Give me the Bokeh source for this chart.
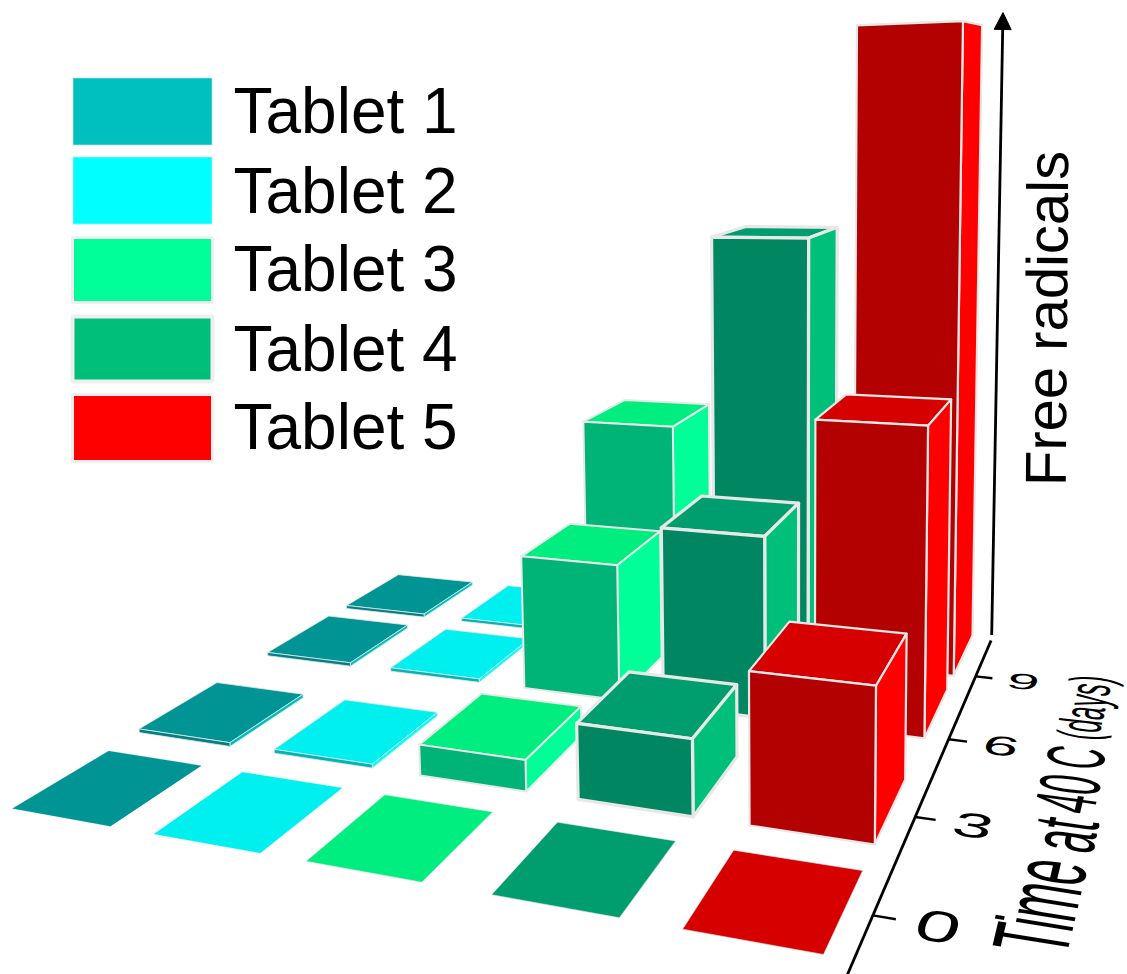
from bokeh.embed import file_html
from bokeh.events import DocumentReady
from bokeh.io import curdoc
from bokeh.models import Arrow, ColumnDataSource, CustomJS, NormalHead, Range1d
from bokeh.plotting import figure
from bokeh.resources import INLINE
from bokeh.core.properties import value
import numpy as np

# Chart content
tablets = ["Tablet 1", "Tablet 2", "Tablet 3", "Tablet 4", "Tablet 5"]
time_days = [0, 3, 6, 9]
tablet_1 = [0.0, 0.035, 0.035, 0.035]
tablet_2 = [0.0, 0.035, 0.035, 0.035]
tablet_3 = [0.0, 0.27, 1.30, 2.28]
tablet_4 = [0.0, 0.64, 1.69, 4.2]
tablet_5 = [0.0, 1.24, 2.77, 6.19]
series = [tablet_1, tablet_2, tablet_3, tablet_4, tablet_5]

# Face colours per tablet
side_colors = ["#00BFBF", "#00FFFF", "#00FF99", "#00BF7A", "#FF0000"]
top_colors = ["#009494", "#00F0F0", "#00EE80", "#009E6E", "#D60000"]
front_colors = ["#007F85", "#00B5B5", "#00B377", "#008762", "#B30000"]
edge_widths = [0.8, 0.8, 2.0, 3.2, 2.2]
EDGE = "#E8E8E8"

# Scene layout in floor units: tablet pitch is 1, time tick pitch is 1
BAR_W, BAR_D = 0.68, 0.76
ROW_NEAR = [0.0, 1.03, 2.35, 3.35]
TICK_V = [0.38, 1.38, 2.38, 3.38]
AXIS_U = 4.82
# Small sideways placement of a bar on the floor, per tablet and time row
BAR_SHIFT = [[0, 0, 0, 0], [-0.03, 0, 0, 0], [-0.07, 0, 0.015, 0.025], [0, 0, 0, 0], [0, 0, 0, 0]]

# Camera: floor corners on the page and the vanishing point of verticals
U_MAX, V_MAX = 4 + BAR_W, ROW_NEAR[-1] + BAR_D
FLOOR = [((0, 0), (12, 808)), ((U_MAX, 0), (823, 954)),
         ((0, V_MAX), (398, 577)), ((U_MAX, V_MAX), (972, 635))]
V_VERT = np.array([793.0, 12000.0, 1.0])


def solve_floor():
    a, b = [], []
    for (u, v), (x, y) in FLOOR:
        a.append([u, v, 1, 0, 0, 0, -u * x, -v * x])
        a.append([0, 0, 0, u, v, 1, -u * y, -v * y])
        b += [x, y]
    return np.append(np.linalg.solve(np.array(a, float), np.array(b, float)), 1.0).reshape(3, 3)


H = solve_floor()
H_INV = np.linalg.inv(H)
w_ref = H[2] @ np.array([U_MAX, 0, 1])
K = -143.0 * w_ref / (V_VERT[1] - 954.0)


def proj(u, v, z=0.0):
    q = H @ np.array([u, v, 1.0]) + z * K * V_VERT
    return q[0] / q[2], q[1] / q[2]


def floor_of(x, y):
    q = H_INV @ np.array([x, y, 1.0])
    return q[0] / q[2], q[1] / q[2]


def floor_axes(u, v):
    """Page-space vectors of one floor unit along u and along v at a floor point."""
    e = 0.02
    a, b = proj(u - e, v), proj(u + e, v)
    c, d = proj(u, v - e), proj(u, v + e)
    return ((b[0] - a[0]) / (2 * e), (b[1] - a[1]) / (2 * e)), ((d[0] - c[0]) / (2 * e), (d[1] - c[1]) / (2 * e))


p = figure(width=1127, height=974, output_backend="svg", toolbar_location=None,
           x_range=Range1d(0, 1127), y_range=Range1d(974, 0), min_border=0,
           x_axis_type=None, y_axis_type=None, outline_line_color=None,
           background_fill_color="white", border_fill_color="white")
p.grid.visible = False

# Bars, far rows first and left to right inside a row
xs, ys, fills, lines, widths = [], [], [], [], []


def add_face(corners, fill, lw, line=EDGE):
    pts = [proj(*c) for c in corners]
    xs.append([q[0] for q in pts])
    ys.append([q[1] for q in pts])
    fills.append(fill)
    lines.append(line)
    widths.append(lw)


for r in reversed(range(len(time_days))):
    for i, vals in enumerate(series):
        h = vals[r]
        u0 = i + BAR_SHIFT[i][r]
        u1 = u0 + BAR_W
        v0, v1 = ROW_NEAR[r], ROW_NEAR[r] + BAR_D
        if h == 0:
            add_face([(u0, v0), (u1, v0), (u1, v1), (u0, v1)], top_colors[i],
                     0.6 if i > 1 else 0.2, EDGE if i > 1 else top_colors[i])
            continue
        lw = edge_widths[i]
        add_face([(u0, v0, h), (u1, v0, h), (u1, v1, h), (u0, v1, h)], top_colors[i], lw)
        add_face([(u1, v0), (u1, v1), (u1, v1, h), (u1, v0, h)], side_colors[i], lw)
        add_face([(u0, v0), (u1, v0), (u1, v0, h), (u0, v0, h)], front_colors[i], lw)

p.patches("xs", "ys", source=ColumnDataSource(dict(xs=xs, ys=ys, fill=fills, line=lines, lw=widths)),
          fill_color="fill", line_color="line", line_width="lw", line_join="round")

# Texts lying on the floor get a local affine matrix from the camera
BASE_PX = 40.0
floor_matrices = {}


def floor_text(txt, x, y, m):
    p.text([x], [y], text=[txt], text_font=value("Liberation Sans"), text_font_size=f"{BASE_PX:.0f}px",
           text_align="center", text_baseline="middle", text_color="black")
    floor_matrices[txt] = m


# Time axis on the floor with its ticks and labels
ax0, ax1 = proj(AXIS_U, -0.12), proj(AXIS_U, 4.05)
p.line([ax0[0], ax1[0]], [ax0[1], ax1[1]], line_color="black", line_width=2.8)
TICK_EM = 0.37
for k, t in enumerate(time_days):
    a, b = proj(AXIS_U, TICK_V[k]), proj(AXIS_U + 0.11, TICK_V[k])
    p.line([a[0], b[0]], [a[1], b[1]], line_color="black", line_width=2.4)
    uc, vc = AXIS_U + 0.31, TICK_V[k]
    c = proj(uc, vc)
    eu, ev = floor_axes(uc, vc)
    s = TICK_EM / BASE_PX
    floor_text(str(t), c[0], c[1], [eu[0] * s, eu[1] * s, -ev[0] * s, -ev[1] * s])

# Height axis arrow
z_base = proj(AXIS_U, 4.08)
z_top = proj(AXIS_U, 4.08, 6.5)
p.add_layout(Arrow(end=NormalHead(size=17, fill_color="black", line_color="black"),
                   x_start=z_base[0], y_start=z_base[1] - 4, x_end=z_top[0], y_end=12,
                   line_color="black", line_width=2.8))

# Axis titles
p.text([1046], [318], text=["Free radicals"], text_font=value("Liberation Sans"),
       text_font_size="58px", text_align="center", text_baseline="middle",
       text_color="black", angle=np.pi / 2 - 0.008)

# Word, page centre, em size across and along the reading direction in floor units
title_words = [("Time", 1039, 905, 0.50, 0.39), ("at", 1063, 834, 0.47, 0.42),
               ("40", 1067, 793, 0.46, 0.40), ("C", 1075, 757, 0.46, 0.40),
               ("(days)", 1084, 707, 0.36, 0.36)]
for txt, x, y, em_up, em_read in title_words:
    fu, fv = floor_of(x, y)
    eu, ev = floor_axes(fu, fv)
    a, d = em_read / BASE_PX, em_up / BASE_PX
    # reading runs along +v, glyph tops point toward -u
    floor_text(txt, x, y, [ev[0] * a, ev[1] * a, eu[0] * d, eu[1] * d])

# Legend
LEG_TOP = [77, 156, 237, 316, 394]
LEG_BOTTOM = [145, 224, 302, 381, 461]
LEG_MID = [110, 190, 268, 348, 426]
LEG_EDGE = [1.5, 1.5, 3.0, 4.0, 3.0]
p.quad(left=[72] * 5, right=[212] * 5, top=LEG_TOP, bottom=LEG_BOTTOM,
       fill_color=side_colors, line_color="#EFEFEF", line_width=LEG_EDGE)
p.text([233] * 5, LEG_MID, text=tablets, text_font=value("Liberation Sans"),
       text_font_size="64px", text_baseline="middle", text_align="left", text_color="black")

# Bend the floor texts once the SVG exists, keeping each one's centre in place
bend = CustomJS(args=dict(m=floor_matrices), code="""
function walk(root, out) {
  root.querySelectorAll('*').forEach((el) => {
    if (el.shadowRoot) walk(el.shadowRoot, out);
    if (el.tagName && el.tagName.toLowerCase() === 'text') out.push(el);
  });
  return out;
}
function apply() {
  walk(document, []).forEach((el) => {
    const k = el.textContent;
    if (el.dataset.bent || !Object.prototype.hasOwnProperty.call(m, k)) return;
    const b = el.getBBox();
    const cx = b.x + b.width / 2, cy = b.y + b.height / 2;
    const t = m[k];
    const old = el.getAttribute('transform') || '';
    el.setAttribute('transform', `${old} translate(${cx} ${cy}) matrix(${t.join(' ')} 0 0) translate(${-cx} ${-cy})`);
    el.dataset.bent = '1';
  });
}
let n = 0;
apply();
const id = setInterval(() => { apply(); if (++n > 40) clearInterval(id); }, 50);
""")

doc = curdoc()
doc.add_root(p)
doc.js_on_event(DocumentReady, bend)

open("out.html", "w").write(file_html(p, INLINE))
